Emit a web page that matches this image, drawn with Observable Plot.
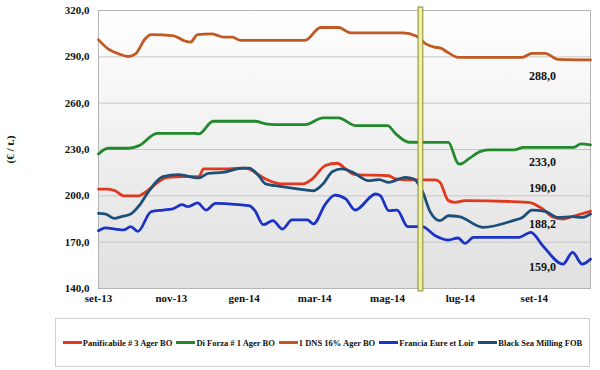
<!DOCTYPE html>
<html>
<head>
<meta charset="utf-8">
<script src="https://cdn.jsdelivr.net/npm/d3@7"></script>
<script src="https://cdn.jsdelivr.net/npm/@observablehq/plot@0.6"></script>
<style>
  html, body { margin: 0; padding: 0; background: #fff; }
  #chart svg { display: block; }
  .legend {
    margin: 6px 0 0 55px; width: 535px; height: 49px; box-sizing: border-box;
    border: 1px solid #cfcfcf; display: flex; align-items: center; justify-content: center;
    font-family: "Liberation Serif", "Times New Roman", serif; font-weight: bold; font-size: 8.5px; color: #111;
  }
  .legend .item { display: flex; align-items: center; margin: 0 2px; white-space: nowrap; }
  .legend .sw { width: 19px; height: 3px; margin-right: 1px; }
</style>
</head>
<body>
<div id="chart"></div>
<script>
// ---------- DATA ----------
const seriesNames = ["Panificabile # 3 Ager BO", "Di Forza # 1 Ager BO", "1 DNS 16% Ager BO", "Francia Eure et Loir", "Black Sea Milling FOB"];
const seriesColors = ["#e2381d", "#22892c", "#c05a22", "#1b33c6", "#1d4f78"];

const panDates = ["2013-09-01","2013-09-09","2013-09-15","2013-09-22","2013-10-05","2013-10-10","2013-10-25","2013-10-29","2013-11-10","2013-11-24","2013-11-28","2013-12-19","2013-12-31","2014-01-05","2014-01-10","2014-01-19","2014-02-02","2014-02-19","2014-02-27","2014-03-10","2014-03-20","2014-03-27","2014-04-04","2014-05-02","2014-05-08","2014-05-24","2014-06-10","2014-06-14","2014-06-21","2014-06-27","2014-07-05","2014-08-27","2014-09-08","2014-09-16","2014-09-25","2014-10-05","2014-10-18"];
const panValues = [204.4,204.4,203.3,200,200,202.2,210.9,212,212.4,212.4,217.4,217.4,218,217.4,215.2,210.9,207.7,207.7,210.9,219.6,221.1,217.4,213.7,213,210.9,210.3,210.3,208.7,196.9,195.8,196.9,195.8,191.5,186.5,185,187.1,190.0];

const forzaDates = ["2013-09-01","2013-09-09","2013-09-26","2013-10-05","2013-10-20","2013-11-21","2013-11-24","2013-12-06","2014-01-10","2014-01-19","2014-01-27","2014-02-21","2014-03-08","2014-03-21","2014-04-04","2014-05-01","2014-05-08","2014-05-19","2014-06-21","2014-06-29","2014-07-01","2014-07-08","2014-07-18","2014-07-26","2014-08-15","2014-08-23","2014-10-04","2014-10-10","2014-10-18"];
const forzaValues = [227.1,230.8,230.8,232.5,240.5,240.5,240.1,248.3,248.3,246.6,246.1,246.1,250.5,250.5,245.5,245.5,240.1,234.7,234.6,221,220.6,223.9,228.8,229.7,229.7,231.4,231.4,233.6,233.0];

const dnsDates = ["2013-09-01","2013-09-09","2013-09-18","2013-09-26","2013-10-02","2013-10-10","2013-10-15","2013-11-02","2013-11-13","2013-11-17","2013-11-23","2013-12-05","2013-12-10","2013-12-15","2013-12-22","2013-12-29","2014-02-21","2014-03-06","2014-03-21","2014-03-31","2014-05-14","2014-05-25","2014-06-02","2014-06-10","2014-06-14","2014-06-21","2014-06-29","2014-08-22","2014-08-30","2014-09-10","2014-09-21","2014-10-18"];
const dnsValues = [301,295.2,291.9,290.2,291.9,301.6,304.4,303.8,300.1,299.5,304.4,304.9,303.8,302.7,302.7,300.6,300.6,309,309,305.5,305.5,303.5,298.4,296.2,295.8,292.6,289.7,289.7,292.3,292.3,288.3,288.0];

const franciaDates = ["2013-09-01","2013-09-07","2013-09-15","2013-09-22","2013-09-28","2013-10-04","2013-10-15","2013-10-25","2013-11-02","2013-11-10","2013-11-15","2013-11-23","2013-11-30","2013-12-08","2013-12-27","2014-01-05","2014-01-10","2014-01-17","2014-01-25","2014-02-02","2014-02-10","2014-02-23","2014-02-28","2014-03-10","2014-03-18","2014-03-27","2014-04-04","2014-04-21","2014-04-25","2014-05-02","2014-05-09","2014-05-18","2014-05-30","2014-06-10","2014-06-21","2014-06-29","2014-07-05","2014-07-12","2014-08-19","2014-08-29","2014-09-08","2014-09-25","2014-10-03","2014-10-11","2014-10-18"];
const franciaValues = [177.4,179.2,178.5,177.9,180.1,177,189.7,190.8,191.5,194.3,193,195.4,190.8,195.1,194.3,193.6,190.4,181.3,183.9,178.5,184.4,184.4,181.8,194.7,200.5,198,190.8,201.2,200.1,190.4,190.8,180,180,174.2,171.4,172.7,169.2,173.1,173.1,176.3,167.7,155.8,163.4,155.8,159.0];

const blackSeaDates = ["2013-09-01","2013-09-07","2013-09-14","2013-09-21","2013-09-28","2013-10-05","2013-10-13","2013-10-25","2013-11-07","2013-11-24","2013-12-02","2013-12-14","2013-12-31","2014-01-05","2014-01-13","2014-01-19","2014-01-27","2014-02-16","2014-02-28","2014-03-08","2014-03-16","2014-03-24","2014-04-02","2014-04-15","2014-04-24","2014-05-02","2014-05-16","2014-05-23","2014-05-30","2014-06-06","2014-06-14","2014-06-21","2014-06-30","2014-07-20","2014-08-14","2014-08-22","2014-08-30","2014-09-10","2014-09-21","2014-10-03","2014-10-11","2014-10-18"];
const blackSeaValues = [188.6,188.2,185.4,186.7,188.2,193.6,202.9,212.4,213.7,211.6,214.6,215.2,218,218,213.1,207.7,206.6,204.4,203.3,207.7,215.8,217.4,215.2,209.8,210.5,208.7,212,210.9,203.3,189.3,183.9,187.1,186.5,179.6,183.9,186,190.8,189.9,186,186.5,186,188.2];

const xDomain = ["2013-09-01", "2014-10-18"];
const xTicks = ["2013-09-01","2013-11-01","2014-01-01","2014-03-01","2014-05-01","2014-07-01","2014-09-01"];
const yTicks = [140, 170, 200, 230, 260, 290, 320];
const monthNames = ["gen","feb","mar","apr","mag","giu","lug","ago","set","ott","nov","dic"];
const markerDates = ["2014-05-27", "2014-05-31"];
const labelDy = [-23, 17, 16, 8, 10];

// ---------- BUILD ----------
const parse = d3.utcParse("%Y-%m-%d");
const seriesData = [
  [panDates, panValues], [forzaDates, forzaValues], [dnsDates, dnsValues],
  [franciaDates, franciaValues], [blackSeaDates, blackSeaValues]
];
const rows = [];
seriesData.forEach(([ds, vs], i) => ds.forEach((d, j) => rows.push({name: seriesNames[i], date: parse(d), value: vs[j]})));
const fmt = v => v.toFixed(1).replace(".", ",");

const gradient = () => {
  const defs = d3.create("svg:defs");
  const g = defs.append("linearGradient").attr("id", "bg").attr("x1", 0).attr("x2", 0).attr("y1", 0).attr("y2", 1);
  g.append("stop").attr("offset", "0%").attr("stop-color", "#ffffff");
  g.append("stop").attr("offset", "100%").attr("stop-color", "#e0e0e0");
  return defs.node();
};

const endMarks = seriesNames.map((name, i) => {
  const last = rows.filter(r => r.name === name).slice(-1);
  return Plot.text(last, {x: "date", y: "value", text: d => fmt(d.value), dx: -48, dy: labelDy[i],
    fontSize: 12, fontWeight: "bold", fill: "#111"});
});

const chart = Plot.plot({
  width: 600, height: 312,
  marginLeft: 98, marginRight: 10, marginTop: 10, marginBottom: 24,
  style: {fontFamily: "'Liberation Serif', 'Times New Roman', serif", fontWeight: "bold", fontSize: "11px", color: "#111", background: "#fff"},
  x: {type: "utc", domain: xDomain.map(parse)},
  y: {domain: [140, 320]},
  color: {domain: seriesNames, range: seriesColors},
  marks: [
    gradient,
    Plot.frame({fill: "url(#bg)", stroke: "none"}),
    Plot.gridY(yTicks, {stroke: "#c6c6c6", strokeOpacity: 1, strokeWidth: 1}),
    Plot.frame({stroke: "#b5b5b5"}),
    Plot.axisY({ticks: yTicks, tickFormat: fmt, tickSize: 0, tickPadding: 9,
      label: "(€ / t.)", labelAnchor: "center", labelArrow: "none", labelOffset: 92}),
    Plot.axisX({ticks: xTicks.map(parse), tickSize: 0, tickPadding: 6,
      tickFormat: d => monthNames[d.getUTCMonth()] + "-" + String(d.getUTCFullYear()).slice(2), label: null}),
    Plot.line(rows, {x: "date", y: "value", z: "name", stroke: "name", strokeWidth: 2.8, curve: "monotone-x"}),
    Plot.rect([markerDates], {x1: d => parse(d[0]), x2: d => parse(d[1]), fill: "#eef0a4", stroke: "#8a8a2c", strokeWidth: 1, insetTop: -3, insetBottom: -3}),
    ...endMarks
  ]
});
document.getElementById("chart").appendChild(chart);

// ---------- LEGEND ----------
const legend = document.createElement("div");
legend.className = "legend";
seriesNames.forEach((n, i) => {
  const it = document.createElement("div");
  it.className = "item";
  it.innerHTML = `<span class="sw" style="background:${seriesColors[i]}"></span><span>${n}</span>`;
  legend.appendChild(it);
});
document.body.appendChild(legend);
</script>
</body>
</html>
